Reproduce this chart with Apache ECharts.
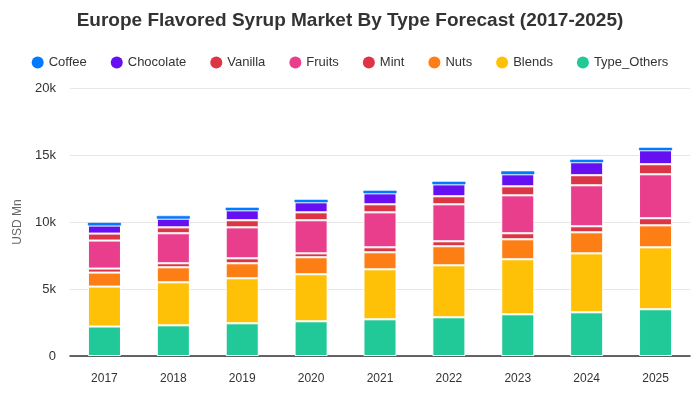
<!DOCTYPE html>
<html><head><meta charset="utf-8">
<script src="https://cdn.jsdelivr.net/npm/echarts@6/dist/echarts.min.js"></script>
<style>html,body{margin:0;padding:0;background:#fff}#c{width:700px;height:400px}</style>
</head><body><div id="c"></div>
<script>
var years = ['2017','2018','2019','2020','2021','2022','2023','2024','2025'];
var typeOthers = [2200, 2290, 2440, 2590, 2740, 2890, 3110, 3260, 3490];
var blends     = [2980, 3210, 3360, 3510, 3730, 3880, 4110, 4400, 4620];
var nuts       = [1045, 1120, 1120, 1270, 1270, 1420, 1490, 1570, 1640];
var mint       = [300, 300, 370, 290, 370, 370, 450, 450, 530];
var fruits     = [2090, 2240, 2310, 2470, 2610, 2760, 2830, 3060, 3280];
var vanilla    = [520, 440, 530, 590, 600, 600, 670, 750, 750];
var chocolate  = [600, 650, 740, 750, 820, 890, 900, 970, 1040];
var coffee     = [200, 200, 200, 190, 200, 200, 220, 190, 190];
var legendOrder = ['Coffee','Chocolate','Vanilla','Fruits','Mint','Nuts','Blends','Type_Others'];

var stackDefs = [
  ['Type_Others', typeOthers, '#20c997'],
  ['Blends', blends, '#ffc107'],
  ['Nuts', nuts, '#fd7e14'],
  ['Mint', mint, '#dc3545'],
  ['Fruits', fruits, '#e83e8c'],
  ['Vanilla', vanilla, '#dc3545'],
  ['Chocolate', chocolate, '#6610f2'],
  ['Coffee', coffee, '#007bff']
];
var series = stackDefs.map(function(d){
  var isTop = d[0] === 'Coffee';
  return {name:d[0], type:'bar', stack:'total', data:d[1], barWidth:'48%',
    itemStyle:{color:d[2], borderColor:isTop ? d[2] : '#fff', borderWidth:isTop ? 0.5 : 1}};
});
var chart = echarts.init(document.getElementById('c'), null, {renderer:'canvas'});
chart.setOption({
  animation:false,
  title:{text:'Europe Flavored Syrup Market By Type Forecast (2017-2025)', left:'center', top:6,
    textStyle:{fontSize:19, fontWeight:'bold', color:'#333', fontFamily:'Liberation Sans, Arial, sans-serif'}},
  legend:{data:legendOrder, top:51, left:'center', icon:'circle', itemWidth:12, itemHeight:12, itemGap:24,
    itemStyle:{borderWidth:0},
    textStyle:{fontSize:13, color:'#333', fontFamily:'Liberation Sans, Arial, sans-serif'}},
  grid:{left:70, right:10, top:88, bottom:44},
  xAxis:{type:'category', data:years,
    axisLine:{lineStyle:{color:'#333', width:1.5}}, axisTick:{show:false},
    axisLabel:{color:'#333', fontSize:12, margin:17, fontFamily:'Liberation Sans, Arial, sans-serif'}},
  yAxis:{type:'value', min:0, max:20000, interval:5000, name:'USD Mn', nameLocation:'middle', nameGap:38,
    nameTextStyle:{color:'#666', fontSize:12, fontFamily:'Liberation Sans, Arial, sans-serif'},
    axisLabel:{color:'#333', fontSize:13, margin:14, fontFamily:'Liberation Sans, Arial, sans-serif',
      formatter:function(v){return v===0?'0':(v/1000)+'k';}},
    splitLine:{lineStyle:{color:'#e6e6e6'}}},
  series:series
});
</script></body></html>
